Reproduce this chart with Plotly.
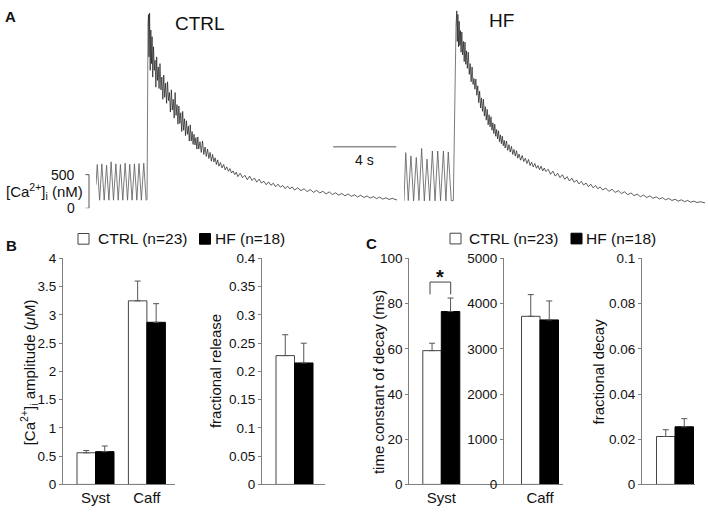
import plotly.graph_objects as go

# ---------------- Panel A data: (time s, [Ca2+]i nM) ----------------
ctrl_osc = [(0.00, 350), (0.08, 650), (0.23, 120), (0.37, 660), (0.52, 120), (0.67, 640), (0.82, 120),
            (0.96, 690), (1.11, 120), (1.26, 660), (1.41, 120), (1.55, 650), (1.70, 120), (1.85, 670),
            (2.00, 120), (2.14, 655), (2.29, 120), (2.44, 660), (2.59, 120), (2.73, 665), (2.88, 120),
            (3.03, 670), (3.18, 120), (3.24, 130), (3.30, 2700)]
ctrl_decay = [(3.30, 2700), (3.33, 2880), (3.36, 2250), (3.40, 2900), (3.44, 2050), (3.48, 2650), (3.52, 2150),
              (3.56, 2550), (3.60, 1950), (3.65, 2400), (3.70, 2050), (3.75, 2200), (3.80, 1800), (3.85, 2250),
              (3.90, 1900), (3.95, 2100), (4.00, 1780), (4.06, 2150), (4.12, 1760), (4.18, 1950), (4.24, 1620),
              (4.30, 1980), (4.36, 1650), (4.42, 1860), (4.48, 1560), (4.54, 1880), (4.60, 1600), (4.66, 1720),
              (4.72, 1430), (4.78, 1760), (4.84, 1460), (4.90, 1620), (4.96, 1340), (5.02, 1720), (5.08, 1380),
              (5.14, 1540), (5.20, 1250), (5.26, 1520), (5.32, 1260), (5.38, 1420), (5.44, 1140), (5.50, 1440),
              (5.56, 1160), (5.62, 1330), (5.68, 1080), (5.74, 1300), (5.80, 1100), (5.86, 1220), (5.92, 1000),
              (5.98, 1240), (6.04, 1000), (6.10, 1140), (6.16, 950), (6.22, 1100), (6.28, 940), (6.34, 1050),
              (6.40, 880), (6.46, 1060), (6.52, 880), (6.60, 990), (6.68, 830), (6.76, 1000), (6.84, 800),
              (6.92, 910), (7.00, 770), (7.08, 880), (7.16, 740), (7.24, 830), (7.32, 700), (7.40, 800),
              (7.48, 690), (7.56, 750), (7.64, 650), (7.72, 720), (7.80, 625), (7.90, 680), (8.00, 600),
              (8.10, 650), (8.20, 570), (8.30, 615), (8.40, 550), (8.50, 590), (8.60, 525), (8.70, 555),
              (8.80, 500), (8.90, 535), (9.00, 470), (9.15, 520), (9.30, 455), (9.45, 490), (9.60, 425),
              (9.75, 478), (9.90, 412), (10.05, 450), (10.20, 388), (10.35, 432), (10.50, 375), (10.65, 402),
              (10.80, 350), (10.95, 392), (11.10, 342), (11.25, 372), (11.40, 320), (11.55, 358), (11.70, 312),
              (11.85, 340), (12.00, 292), (12.15, 330), (12.30, 288), (12.45, 318), (12.60, 270), (12.80, 305),
              (13.00, 262), (13.20, 290), (13.40, 248), (13.60, 278), (13.80, 236), (14.00, 265), (14.20, 228),
              (14.40, 252), (14.60, 212), (14.80, 244), (15.00, 204), (15.20, 230), (15.40, 196), (15.60, 220),
              (15.80, 186), (16.00, 212), (16.20, 178), (16.40, 200), (16.60, 168), (16.80, 194), (17.00, 160),
              (17.20, 182), (17.40, 152), (17.60, 174), (17.80, 144), (18.00, 166), (18.20, 136), (18.40, 156),
              (18.60, 130), (18.80, 148), (19.10, 122)]

hf_osc = [(0.00, 110), (0.11, 827), (0.27, 115), (0.44, 779), (0.61, 110), (0.78, 755), (0.95, 115),
          (1.12, 889), (1.29, 110), (1.46, 730), (1.63, 112), (1.80, 851), (1.97, 110), (2.14, 851),
          (2.32, 112), (2.50, 851), (2.66, 110), (2.81, 837), (3.00, 110), (3.13, 115), (3.30, 2700)]
hf_decay = [(3.30, 2700), (3.35, 2934), (3.38, 2480), (3.42, 2880), (3.46, 2400), (3.50, 2780), (3.54, 2420),
            (3.58, 2640), (3.62, 2320), (3.67, 2620), (3.72, 2280), (3.77, 2480), (3.82, 2180), (3.87, 2470),
            (3.92, 2140), (3.97, 2340), (4.02, 2080), (4.08, 2320), (4.14, 1990), (4.20, 2150), (4.26, 1880),
            (4.32, 2100), (4.38, 1840), (4.44, 1930), (4.50, 1770), (4.56, 1920), (4.62, 1680), (4.68, 1820),
            (4.74, 1570), (4.80, 1740), (4.86, 1490), (4.92, 1640), (4.98, 1440), (5.04, 1620), (5.10, 1370),
            (5.16, 1510), (5.22, 1310), (5.28, 1470), (5.34, 1240), (5.40, 1390), (5.46, 1210), (5.52, 1360),
            (5.58, 1160), (5.64, 1270), (5.70, 1110), (5.76, 1250), (5.82, 1070), (5.88, 1170), (5.94, 1030),
            (6.00, 1150), (6.06, 990), (6.12, 1090), (6.18, 960), (6.24, 1070), (6.30, 930), (6.36, 1010),
            (6.42, 895), (6.50, 1000), (6.58, 860), (6.66, 945), (6.74, 835), (6.82, 920), (6.90, 800),
            (6.98, 875), (7.06, 775), (7.14, 855), (7.22, 745), (7.30, 805), (7.40, 715), (7.50, 785),
            (7.60, 695), (7.70, 745), (7.80, 665), (7.90, 725), (8.00, 635), (8.10, 685), (8.20, 615),
            (8.30, 665), (8.40, 595), (8.50, 635), (8.60, 575), (8.70, 625), (8.80, 555), (8.90, 598),
            (9.00, 545), (9.15, 580), (9.30, 505), (9.45, 552), (9.60, 478), (9.75, 520), (9.90, 455),
            (10.05, 498), (10.20, 430), (10.35, 470), (10.50, 405), (10.65, 448), (10.80, 385), (10.95, 420),
            (11.10, 362), (11.25, 400), (11.40, 345), (11.55, 375), (11.70, 322), (11.85, 358), (12.00, 305),
            (12.15, 340), (12.30, 290), (12.45, 318), (12.60, 272), (12.80, 300), (13.00, 252), (13.20, 282),
            (13.40, 236), (13.60, 262), (13.80, 218), (14.00, 245), (14.20, 202), (14.40, 228), (14.60, 188),
            (14.80, 210), (15.00, 172), (15.20, 196), (15.40, 160), (15.60, 184), (15.80, 148), (16.00, 170),
            (16.20, 138), (16.40, 158), (16.60, 126), (16.80, 146), (17.00, 116), (17.20, 134), (17.40, 106),
            (17.60, 126), (17.80, 98), (18.00, 116), (18.20, 90), (18.40, 106), (18.60, 84), (18.80, 98),
            (19.10, 80)]

# ---------------- Panel B / C data ----------------
groups = ["CTRL (n=23)", "HF (n=18)"]
amp_cats = ["Syst", "Caff"]
amp_ctrl = [0.56, 3.25]
amp_ctrl_err = [0.04, 0.35]
amp_hf = [0.58, 2.87]
amp_hf_err = [0.10, 0.33]

frel_ctrl = [0.228]
frel_ctrl_err = [0.037]
frel_hf = [0.215]
frel_hf_err = [0.035]

tau_syst_ctrl = [59.2]
tau_syst_ctrl_err = [3.3]
tau_syst_hf = [76.5]
tau_syst_hf_err = [6.0]

tau_caff_ctrl = [3720]
tau_caff_ctrl_err = [480]
tau_caff_hf = [3640]
tau_caff_hf_err = [420]

fdec_ctrl = [0.0212]
fdec_ctrl_err = [0.0030]
fdec_hf = [0.0255]
fdec_hf_err = [0.0036]

W, H = 708, 516
def px(x):
    return x / W
def py(y):
    return 1 - y / H

FONT = "Liberation Sans, Arial, sans-serif"
AXC = "#808080"
fig = go.Figure()

# ---- Panel A traces ----
def add_trace_pairs(pairs, xa, color, width):
    fig.add_trace(go.Scatter(x=[p[0] for p in pairs], y=[p[1] for p in pairs], mode="lines",
                             xaxis=xa, yaxis="y", line=dict(color=color, width=width),
                             showlegend=False, hoverinfo="skip"))

add_trace_pairs(ctrl_osc, "x", "#5a5a5a", 0.8)
add_trace_pairs(ctrl_decay, "x", "#1a1a1a", 0.7)
add_trace_pairs(hf_osc, "x2", "#5a5a5a", 0.8)
add_trace_pairs(hf_decay, "x2", "#1a1a1a", 0.7)

# ---- bar helper ----
def add_pair(xa, ya, cats, c_vals, c_err, h_vals, h_err):
    fig.add_trace(go.Bar(x=cats, y=c_vals, name=groups[0], xaxis=xa, yaxis=ya, offsetgroup="c",
                         marker=dict(color="white", line=dict(color="#444", width=1)),
                         error_y=dict(type="data", symmetric=False, array=c_err, arrayminus=[0] * len(c_err),
                                      color="#555", thickness=1, width=3),
                         showlegend=False))
    fig.add_trace(go.Bar(x=cats, y=h_vals, name=groups[1], xaxis=xa, yaxis=ya, offsetgroup="h",
                         marker=dict(color="black", line=dict(color="black", width=1)),
                         error_y=dict(type="data", symmetric=False, array=h_err, arrayminus=[0] * len(h_err),
                                      color="#555", thickness=1, width=3),
                         showlegend=False))

add_pair("x3", "y3", amp_cats, amp_ctrl, amp_ctrl_err, amp_hf, amp_hf_err)
add_pair("x4", "y4", [" "], frel_ctrl, frel_ctrl_err, frel_hf, frel_hf_err)
add_pair("x5", "y5", ["Syst"], tau_syst_ctrl, tau_syst_ctrl_err, tau_syst_hf, tau_syst_hf_err)
add_pair("x6", "y6", ["Caff"], tau_caff_ctrl, tau_caff_ctrl_err, tau_caff_hf, tau_caff_hf_err)
add_pair("x7", "y7", [" "], fdec_ctrl, fdec_ctrl_err, fdec_hf, fdec_hf_err)

hidden = dict(visible=False, showgrid=False, zeroline=False)
ca_top = 207.3 / 0.0693
bar_dom = [py(491.7), py(259)]
CAT = 51.4

def xbar(dom_px, left_off, anchor, showlabels=True):
    return dict(domain=[px(dom_px[0]), px(dom_px[1])], anchor=anchor, type="category",
                range=[-left_off / CAT, (dom_px[1] - dom_px[0] - left_off) / CAT],
                showline=True, linecolor=AXC, linewidth=1, ticks="", showgrid=False, zeroline=False,
                showticklabels=showlabels, tickfont=dict(size=15, color="#111", family=FONT), fixedrange=True)

def ybar(rng, dtick, anchor):
    return dict(domain=bar_dom, anchor=anchor, range=rng, dtick=dtick, showline=True, linecolor=AXC,
                linewidth=1, ticks="outside", ticklen=3, tickcolor=AXC, showgrid=False, zeroline=False,
                tickfont=dict(size=13.5, color="#111", family=FONT), fixedrange=True)

fig.update_layout(
    width=W, height=H, margin=dict(l=0, r=0, t=0, b=0),
    paper_bgcolor="white", plot_bgcolor="rgba(0,0,0,0)",
    barmode="group", bargap=0.28, bargroupgap=0,
    font=dict(family=FONT, color="#111"),
    hovermode=False,
    xaxis=dict(domain=[px(96), px(397)], range=[0, 19.1], anchor="y", **hidden),
    xaxis2=dict(domain=[px(404), px(705)], range=[0, 19.1], anchor="y", **hidden),
    yaxis=dict(domain=[py(207.3), 1], range=[0, ca_top], anchor="x", **hidden),
    xaxis3=xbar([63, 175], 32.5, "y3"),
    yaxis3=ybar([0, 4], 0.5, "x3"),
    xaxis4=xbar([262, 325], 32.5, "y4", False),
    yaxis4=ybar([0, 0.4], 0.05, "x4"),
    xaxis5=xbar([409.3, 504], 32.0, "y5"),
    yaxis5=ybar([0, 100], 20, "x5"),
    xaxis6=xbar([504, 563], 36.0, "y6"),
    yaxis6=ybar([0, 5000], 1000, "x6"),
    xaxis7=xbar([642, 695], 33.0, "y7", False),
    yaxis7=ybar([0, 0.1], 0.02, "x7"),
)

shapes = []
ann = []
def text(x, y, s, size, xanchor="center", yanchor="middle", angle=0, bold=False, xref="paper", yref="paper"):
    ann.append(dict(x=x, y=y, xref=xref, yref=yref, text=(f"<b>{s}</b>" if bold else s), showarrow=False,
                    xanchor=xanchor, yanchor=yanchor, textangle=angle,
                    font=dict(size=size, family=FONT, color="#111")))

# Panel A decorations
text(px(10.5), py(10), "A", 15, bold=True)
text(px(200), py(17), "CTRL", 19)
text(px(501), py(14), "HF", 19)
# time scale bar (4 s)
shapes.append(dict(type="line", xref="x", yref="y", x0=15.05, x1=19.05, y0=913, y1=913,
                   line=dict(color="#555", width=1)))
text(17.05, 913 - 190, "4 s", 14, xref="x", yref="y")
# concentration scale bar
shapes.append(dict(type="line", xref="paper", yref="y", x0=px(89), x1=px(89), y0=0, y1=500,
                   line=dict(color="#555", width=1)))
for v in [0, 500]:
    shapes.append(dict(type="line", xref="paper", yref="y", x0=px(85.5), x1=px(89), y0=v, y1=v,
                       line=dict(color="#555", width=1)))
    text(px(77), v, str(v), 14, xanchor="right", yref="y")
text(px(85), 250, "[Ca<sup>2+</sup>]<sub>i</sub> (nM)", 15, xanchor="right", yref="y")

# Panel labels
text(px(11), py(246), "B", 15, bold=True)
text(px(371), py(244), "C", 15, bold=True)

# Legends
def legend(x_box1, x_txt1, x_box2, x_txt2, yc):
    shapes.append(dict(type="rect", xref="paper", yref="paper", x0=px(x_box1), x1=px(x_box1 + 11),
                       y0=py(yc + 5.5), y1=py(yc - 5.5), line=dict(color="#444", width=1), fillcolor="white"))
    shapes.append(dict(type="rect", xref="paper", yref="paper", x0=px(x_box2), x1=px(x_box2 + 11),
                       y0=py(yc + 5.5), y1=py(yc - 5.5), line=dict(color="black", width=1), fillcolor="black"))
    text(px(x_txt1), py(yc), groups[0], 15.5, xanchor="left")
    text(px(x_txt2), py(yc), groups[1], 15.5, xanchor="left")

legend(78, 95.5, 199.5, 212.5, 238.8)
legend(450, 467, 571, 584, 238.5)

# Axis titles
text(px(28.3), py(376), "[Ca<sup>2+</sup>]<sub>i</sub> amplitude (<i>μ</i>M)", 15, angle=-90)
text(px(215), py(375), "fractional release", 15, angle=-90)
text(px(378.3), py(386), "time constant of decay (ms)", 15, angle=-90)
text(px(598.3), py(375), "fractional decay", 15, angle=-90)

# significance bracket
shapes.append(dict(type="path", xref="paper", yref="paper",
                   path=f"M {px(430)} {py(296)} L {px(430)} {py(283.3)} L {px(450.7)} {py(283.3)} L {px(450.7)} {py(296)}",
                   line=dict(color="#444", width=1)))
text(px(439.5), py(278), "*", 20, bold=True)

fig.update_layout(shapes=shapes, annotations=ann)
fig.write_html("out.html", config=dict(displayModeBar=False, staticPlot=True),
               post_script="document.body.style.margin='0';document.body.style.padding='0';"
                           "document.documentElement.style.overflow='hidden';")
